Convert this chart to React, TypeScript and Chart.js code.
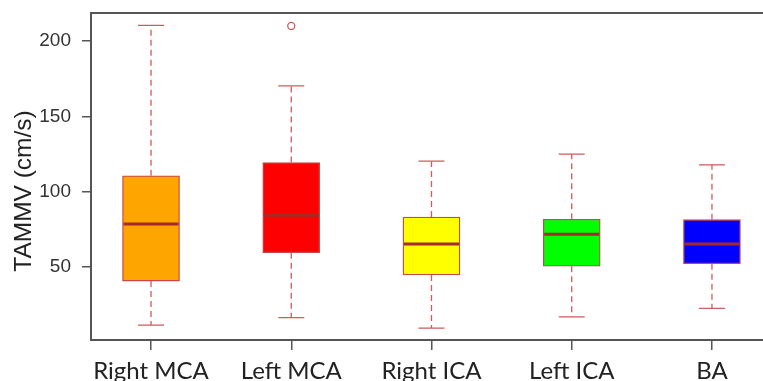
import React, { useEffect, useRef } from "react";
import { Chart, registerables } from "chart.js";

Chart.register(...registerables);

const categories = ["Right MCA", "Left MCA", "Right ICA", "Left ICA", "BA"];
const whiskerLow = [11.6, 16.5, 9.6, 17.1, 22.7];
const q1 = [40.8, 59.6, 44.8, 50.6, 52.3];
const median = [78.7, 84.5, 65.4, 71.8, 65.4];
const q3 = [110.6, 119.4, 83.3, 81.8, 81.5];
const whiskerHigh = [210.4, 170.3, 120.3, 125.0, 117.9];
const outlierGroup = [2];
const outlierValue = [210];
const yTicks = [50, 100, 150, 200];
const boxColors = ["#FFA500", "#FF0000", "#FFFF00", "#00FF00", "#0000FF"];
const yTitle = "TAMMV (cm/s)";

const WHISKER = "#CD5C5C";
const BORDER = "#C44A4A";
const MEDIAN = "#A52A2A";
const AXIS = "#555555";

const boxPlugin = {
  id: "boxWhiskers",
  afterDatasetsDraw(chart: any) {
    const { ctx, scales, chartArea } = chart;
    const xs = scales.x;
    const ys = scales.y;
    const meta = chart.getDatasetMeta(0);
    ctx.save();
    categories.forEach((_, i) => {
      const x = xs.getPixelForValue(i + 1);
      const bar = meta.data[i];
      const half = bar ? bar.width / 2 : 28;
      const yLo = ys.getPixelForValue(whiskerLow[i]);
      const yQ1 = ys.getPixelForValue(q1[i]);
      const yQ3 = ys.getPixelForValue(q3[i]);
      const yHi = ys.getPixelForValue(whiskerHigh[i]);
      const yMed = ys.getPixelForValue(median[i]);
      ctx.strokeStyle = WHISKER;
      ctx.lineWidth = 1.3;
      ctx.setLineDash([6, 4]);
      ctx.beginPath();
      ctx.moveTo(x, yQ3);
      ctx.lineTo(x, yHi);
      ctx.moveTo(x, yQ1);
      ctx.lineTo(x, yLo);
      ctx.stroke();
      ctx.setLineDash([]);
      ctx.beginPath();
      ctx.moveTo(x - 13, yHi);
      ctx.lineTo(x + 13, yHi);
      ctx.moveTo(x - 13, yLo);
      ctx.lineTo(x + 13, yLo);
      ctx.stroke();
      ctx.strokeStyle = MEDIAN;
      ctx.lineWidth = 3;
      ctx.beginPath();
      ctx.moveTo(x - half + 1, yMed);
      ctx.lineTo(x + half - 1, yMed);
      ctx.stroke();
    });
    ctx.strokeStyle = AXIS;
    ctx.lineWidth = 2;
    ctx.beginPath();
    ctx.moveTo(chartArea.left - 1, chartArea.top);
    ctx.lineTo(chart.width, chartArea.top);
    ctx.stroke();
    ctx.fillStyle = "#222222";
    ctx.font = '24.5px "Liberation Sans", Arial, sans-serif';
    ctx.textAlign = "center";
    ctx.textBaseline = "middle";
    ctx.translate(24, 191);
    ctx.rotate(-Math.PI / 2);
    ctx.fillText(yTitle, 0, 0);
    ctx.restore();
  },
};

export default function App() {
  const ref = useRef<HTMLCanvasElement | null>(null);
  useEffect(() => {
    if (!ref.current) return;
    const chart = new Chart(ref.current, {
      type: "bar",
      data: {
        datasets: [
          {
            type: "bar",
            data: categories.map((_, i) => ({ x: i + 1, y: [q1[i], q3[i]] })) as any,
            backgroundColor: boxColors,
            borderColor: BORDER,
            borderWidth: 1.3,
            borderSkipped: false,
            barThickness: 57,
          } as any,
          {
            type: "scatter",
            data: outlierGroup.map((g, i) => ({ x: g, y: outlierValue[i] })),
            pointStyle: "circle",
            pointRadius: 3.5,
            borderColor: WHISKER,
            backgroundColor: "#FFFFFF",
            borderWidth: 1.3,
          } as any,
        ],
      },
      options: {
        responsive: false,
        animation: false,
        layout: { autoPadding: false, padding: { top: 13, right: 0, bottom: 0, left: 0 } },
        plugins: { legend: { display: false }, tooltip: { enabled: false } },
        scales: {
          x: {
            type: "linear",
            offset: false,
            min: 0.572,
            max: 5.364,
            afterBuildTicks: (s: any) => {
              s.ticks = categories.map((_, i) => ({ value: i + 1 }));
            },
            afterFit: (s: any) => {
              s.height = 41;
              s.paddingLeft = 0;
              s.paddingRight = 0;
            },
            ticks: {
              autoSkip: false,
              maxRotation: 0,
              padding: 7,
              color: "#222222",
              font: { family: "Lato", size: 24 },
              callback: (v: any) => categories[Math.round(v) - 1] ?? "",
            },
            grid: {
              display: true,
              offset: false,
              drawOnChartArea: false,
              drawTicks: true,
              tickLength: 10,
              color: AXIS,
              lineWidth: 1.5,
            },
            border: { display: true, color: AXIS, width: 2 },
          },
          y: {
            type: "linear",
            min: 1.7,
            max: 218.6,
            afterBuildTicks: (s: any) => {
              s.ticks = yTicks.map((v) => ({ value: v }));
            },
            afterFit: (s: any) => {
              s.width = 91;
              s.paddingTop = 0;
              s.paddingBottom = 0;
            },
            ticks: {
              padding: 11,
              color: "#333333",
              font: { family: "Liberation Sans", size: 19 },
            },
            grid: {
              display: true,
              drawOnChartArea: false,
              drawTicks: true,
              tickLength: 9,
              color: AXIS,
              lineWidth: 1.5,
            },
            border: { display: true, color: AXIS, width: 2 },
          },
        },
      } as any,
      plugins: [boxPlugin],
    });
    return () => chart.destroy();
  }, []);
  return (
    <div style={{ position: "fixed", left: 0, top: 0, width: 763, height: 381, background: "#fff" }}>
      <canvas ref={ref} width={763} height={381} style={{ display: "block" }} />
    </div>
  );
}
